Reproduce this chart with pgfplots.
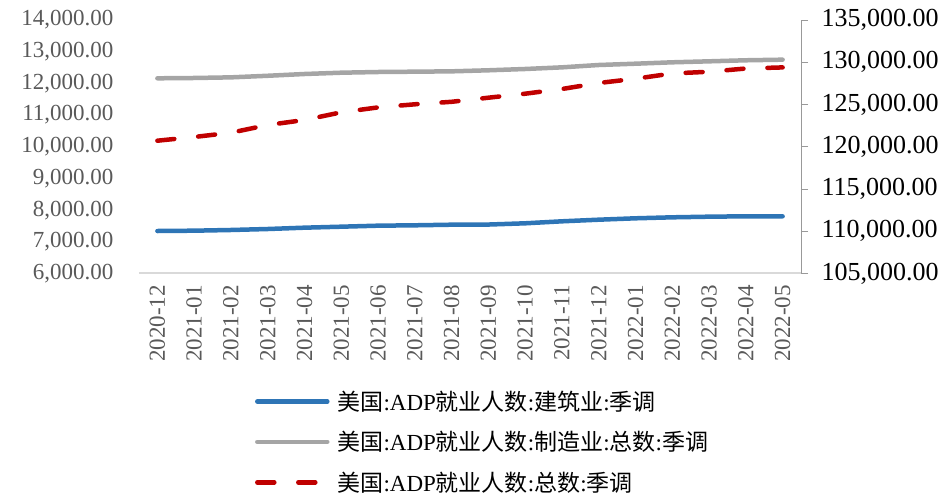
\documentclass[border=0pt]{standalone}
\usepackage{fontspec}
\setmainfont{Liberation Serif}
\newfontfamily\cjk{Noto Sans CJK SC}
\usepackage{pgfplots}
\pgfplotsset{compat=1.18}
\usepackage{pgfplotstable}

\definecolor{cblue}{RGB}{46,117,182}
\definecolor{cgray}{RGB}{165,165,165}
\definecolor{cred}{RGB}{192,0,0}
\definecolor{ctick}{RGB}{89,89,89}

\pgfplotstableread{
idx con man tot
0 7341 12160 120716
1 7351 12170 121154
2 7373 12190 121663
3 7404 12240 122574
4 7446 12296 123166
5 7477 12337 124077
6 7509 12359 124657
7 7521 12369 125024
8 7540 12380 125320
9 7545 12413 125805
10 7584 12454 126278
11 7647 12506 126834
12 7698 12580 127544
13 7742 12621 128053
14 7773 12665 128675
15 7793 12696 128876
16 7805 12729 129260
17 7805 12748 129390
}\data

\begin{document}
\begin{tikzpicture}
\path[use as bounding box] (0,0) rectangle (946pt,501pt);
\pgfplotsset{
  base/.style={
    at={(139pt,227.5pt)}, anchor=south west,
    width=662pt, height=253.5pt, scale only axis,
    xmin=-0.5, xmax=17.5,
    scaled y ticks=false,
    yticklabel style={/pgf/number format/fixed, /pgf/number format/fixed zerofill, /pgf/number format/precision=2, /pgf/number format/1000 sep={,}, /pgf/number format/assume math mode=true},
  }
}
\begin{axis}[base,
  ymin=6000, ymax=14000, ytick distance=1000,
  axis y line*=left, axis x line*=bottom,
  y axis line style={draw=none},
  x axis line style={-, draw=black!15, line width=2pt},
  ytick style={draw=none}, xtick style={draw=none},
  yticklabel style={font=\fontsize{23}{23}\selectfont, text=ctick, xshift=-22pt},
  xtick={0,...,17},
  xticklabels={2020-12,2021-01,2021-02,2021-03,2021-04,2021-05,2021-06,2021-07,2021-08,2021-09,2021-10,2021-11,2021-12,2022-01,2022-02,2022-03,2022-04,2022-05},
  xticklabel style={yshift=-8pt, rotate=90, anchor=east, font=\fontsize{23}{23}\selectfont, text=ctick},
]
\addplot[cblue, line width=4.5pt, line cap=round, line join=round] table[x=idx, y=con] {\data};
\addplot[cgray, line width=4.5pt, line cap=round, line join=round] table[x=idx, y=man] {\data};
\end{axis}
\begin{axis}[base,
  ymin=105000, ymax=135000, ytick distance=5000,
  axis y line*=right, axis x line=none,
  y axis line style={-, draw=black!40, line width=1pt},
  ytick style={draw=black!40, line width=1pt},
  tick align=outside, major tick length=7pt,
  yticklabel style={font=\fontsize{26}{26}\selectfont, text=black, xshift=10pt},
  legend cell align=left,
  legend style={draw=none, fill=none, at={(0.175,-0.455)}, anchor=north west,
    font=\fontsize{23}{23}\selectfont, row sep=15.5pt, inner sep=0pt,
    /tikz/every odd column/.append style={column sep=6pt}},
  legend image code/.code={\draw[#1] (0pt,0pt) -- (70pt,0pt);},
]
\addlegendimage{cblue, line width=4.5pt, line cap=round}
\addlegendentry{{\cjk 美国}:ADP{\cjk 就业人数}:{\cjk 建筑业}:{\cjk 季调}}
\addlegendimage{cgray, line width=4.5pt, line cap=round}
\addlegendentry{{\cjk 美国}:ADP{\cjk 就业人数}:{\cjk 制造业}:{\cjk 总数}:{\cjk 季调}}
\addplot[cred, line width=4.5pt, line cap=round, dash pattern=on 17pt off 24pt] table[x=idx, y=tot] {\data};
\addlegendentry{{\cjk 美国}:ADP{\cjk 就业人数}:{\cjk 总数}:{\cjk 季调}}
\end{axis}
\end{tikzpicture}
\end{document}
